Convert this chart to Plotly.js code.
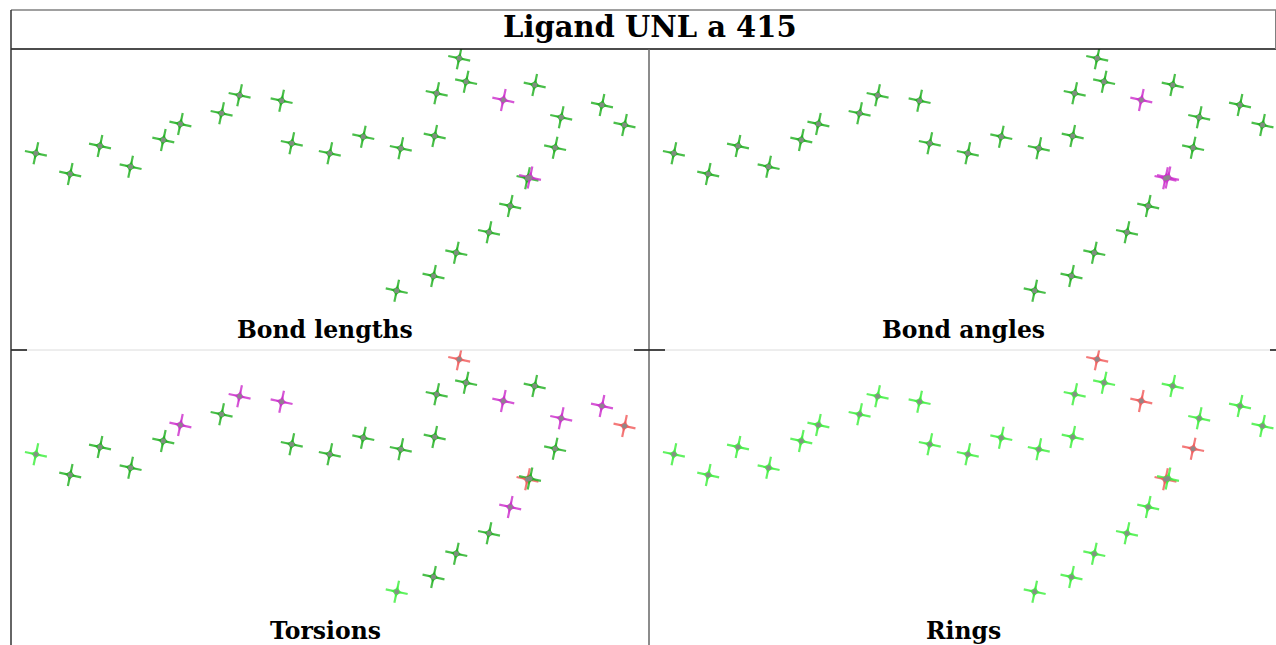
<!DOCTYPE html>
<html><head><meta charset="utf-8">
<script src="https://cdn.plot.ly/plotly-3.0.1.min.js"></script>
<style>html,body{margin:0;padding:0;background:#fff}#c{width:1276px;height:645px}</style>
</head><body><div id="c"></div>
<script>
// Atom 2D coordinates (depiction units)
const atomX = [24.9,59.2,89,119.6,152.3,169.4,210.6,228.6,270.6,280.8,318.8,352.3,389.8,423.7,425.7,448.2,455.1,492.3,523.7,550.2,544.1,516.5,519,499.2,478,445.3,422.5,385.7,591,613.5];
const atomY = [196.7,176,204,183.3,210,226,236.7,254.7,249.3,206.7,196.7,213.3,201.7,214,256.7,291.7,268.3,250,265,232.7,202.3,171.7,172.5,144,117.7,97.3,74,59.3,245,225];
// Per-panel atom status: G = ok, L = ok (light), M = unusual, R = outlier
const panelNames = ["Bond lengths","Bond angles","Torsions","Rings"];
const bondLengths = ["G","G","G","G","G","G","G","G","G","G","G","G","G","G","G","G","G","M","G","G","G","G","M","G","G","G","G","G","G","G"];
const bondAngles  = ["G","G","G","G","G","G","G","G","G","G","G","G","G","G","G","G","G","M","G","G","G","M","M","G","G","G","G","G","G","G"];
const torsions    = ["L","G","G","G","G","M","G","M","M","G","G","G","G","G","G","R","G","M","G","M","G","R","G","M","G","G","G","L","M","R"];
const rings       = ["L","L","L","L","L","L","L","L","L","L","L","L","L","L","L","R","L","R","L","L","R","R","L","L","L","L","L","L","L","L"];
const title = "Ligand UNL a 415";

const colorOf = {G:"#1fb01f", L:"#3cf03c", M:"#cc2ccc", R:"#f25a5a"};
const W = 1276, H = 645;
const px = x => x / W, py = y => 1 - y / H;

const statuses = [bondLengths, bondAngles, torsions, rings];
const traces = [];
statuses.forEach((st, i) => {
  const xa = i % 2 === 0 ? "x" : "x2", ya = i < 2 ? "y" : "y2";
  const cols = st.map(s => colorOf[s]);
  const base = {type: "scatter", mode: "markers", x: atomX, y: atomY, xaxis: xa, yaxis: ya,
                hoverinfo: "skip", showlegend: false};
  traces.push(Object.assign({}, base, {
    marker: {symbol: "cross-thin", size: 16, angle: 12, opacity: 0.8,
             line: {color: cols, width: 2.2}}
  }));
  traces.push(Object.assign({}, base, {
    marker: {symbol: "star-diamond", size: 9, angle: 12, opacity: 0.85, color: cols,
             line: {width: 0}}
  }));
  traces.push(Object.assign({}, base, {
    marker: {symbol: "circle", size: 5, opacity: 0.9, color: "#8a8a8a", line: {width: 0}}
  }));
});

const ax = {showgrid:false, zeroline:false, showticklabels:false, ticks:"", showline:false, fixedrange:true};
const lbl = (t, x, y, s) => ({text:"<b>"+t+"</b>", xref:"paper", yref:"paper", x:px(x), y:py(y), showarrow:false,
  xanchor:"center", yanchor:"middle", font:{family:"DejaVu Serif", size:s, color:"#000"}});
const layout = {
  width: W, height: H, margin: {l:0, r:0, t:0, b:0},
  paper_bgcolor: "#fff", plot_bgcolor: "rgba(0,0,0,0)",
  xaxis:  Object.assign({}, ax, {domain:[px(11), px(649)], range:[0, 638]}),
  xaxis2: Object.assign({}, ax, {domain:[px(649), 1], range:[0, 627]}),
  yaxis:  Object.assign({}, ax, {domain:[py(350), py(49)], range:[0, 301]}),
  yaxis2: Object.assign({}, ax, {domain:[0, py(350)], range:[6, 301]}),
  shapes: [
    {type:"line", xref:"paper", yref:"paper", x0:px(11), x1:1, y0:py(10), y1:py(10), line:{color:"#808080", width:1.5}},
    {type:"line", xref:"paper", yref:"paper", x0:px(11), x1:1, y0:py(49), y1:py(49), line:{color:"#111", width:1.5}},
    {type:"line", xref:"paper", yref:"paper", x0:px(11), x1:px(11), y0:py(10), y1:0, line:{color:"#333", width:1.5}},
    {type:"line", xref:"paper", yref:"paper", x0:px(1275.5), x1:px(1275.5), y0:py(10), y1:py(49), line:{color:"#808080", width:1}},
    {type:"line", xref:"paper", yref:"paper", x0:px(649), x1:px(649), y0:py(49), y1:0, line:{color:"#666", width:1.5}},
    {type:"line", xref:"paper", yref:"paper", x0:px(11), x1:1, y0:py(350), y1:py(350), line:{color:"#dcdcdc", width:1}},
    {type:"line", xref:"paper", yref:"paper", x0:px(11), x1:px(27), y0:py(350), y1:py(350), line:{color:"#111", width:1.5}},
    {type:"line", xref:"paper", yref:"paper", x0:px(634), x1:px(665), y0:py(350), y1:py(350), line:{color:"#111", width:1.5}},
    {type:"line", xref:"paper", yref:"paper", x0:px(1270), x1:1, y0:py(350), y1:py(350), line:{color:"#111", width:1.5}}
  ],
  annotations: [
    lbl(title, 650, 27, 29),
    lbl(panelNames[0], 325, 330, 23.5),
    lbl(panelNames[1], 963, 330, 23.5),
    lbl(panelNames[2], 325, 631, 23.5),
    lbl(panelNames[3], 963, 631, 23.5)
  ]
};
Plotly.newPlot("c", traces, layout, {staticPlot:true, displayModeBar:false});
</script></body></html>
